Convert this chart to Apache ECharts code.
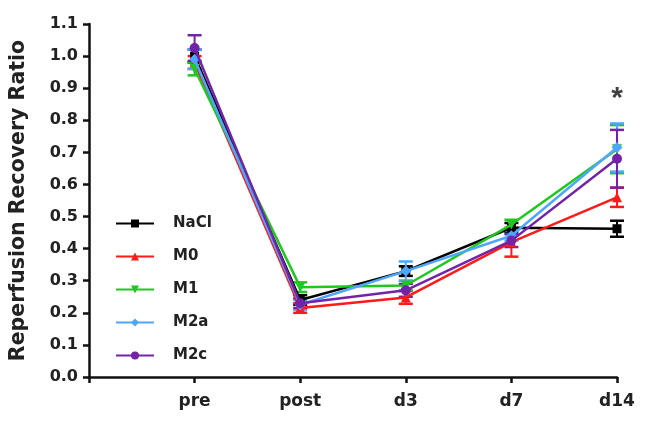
<!DOCTYPE html>
<html><head><meta charset="utf-8">
<script src="https://cdn.jsdelivr.net/npm/echarts@6/dist/echarts.min.js"></script>
<style>html,body{margin:0;padding:0;background:#fff}#c{width:653px;height:433px}</style>
</head><body><div id="c"></div>
<script>
const categories = ['', 'pre', 'post', 'd3', 'd7', 'd14'];
const timepoints = ['pre', 'post', 'd3', 'd7', 'd14'];
const groups = ['NaCl', 'M0', 'M1', 'M2a', 'M2c'];
const nacl = [1.00, 0.24, 0.33, 0.465, 0.462];
const m0   = [0.98, 0.215, 0.248, 0.42, 0.56];
const m1   = [0.96, 0.28, 0.285, 0.475, 0.71];
const m2a  = [0.99, 0.225, 0.33, 0.44, 0.715];
const m2c  = [1.025, 0.23, 0.27, 0.425, 0.68];
const naclErr = [0.02, 0.015, 0.015, 0.015, 0.025];
const m0Err   = [0.02, 0.015, 0.02, 0.045, 0.03];
const m1Err   = [0.02, 0.015, 0.015, 0.015, 0.075];
const m2aErr  = [0.03, 0.015, 0.03, 0.015, 0.075];
const m2cErr  = [0.04, 0.015, 0.02, 0.02, 0.09];
const yTicks = ['0.0','0.1','0.2','0.3','0.4','0.5','0.6','0.7','0.8','0.9','1.0','1.1'];
const starLabel = '*';
const starAt = ['d14', 0.875];

const FONT = 'DejaVu Sans';
const values = [nacl, m0, m1, m2a, m2c];
const errs = [naclErr, m0Err, m1Err, m2aErr, m2cErr];
const colors = ['#000000', '#ff1a1a', '#1ec81e', '#4da6ff', '#7323a8'];
const symbols = ['rect', 'triangle', 'path://M0,0 L10,0 L5,9 Z', 'diamond', 'circle'];
const sizes = [9, 10, 10, 11, 10];

const series = [];
groups.forEach((g, i) => {
  series.push({
    name: g + ' SEM', type: 'custom', z: 2 + i, silent: true,
    data: timepoints.map((t, k) => [t, values[i][k] - errs[i][k], values[i][k] + errs[i][k]]),
    renderItem: function (params, api) {
      const lo = api.coord([api.value(0), api.value(1)]);
      const hi = api.coord([api.value(0), api.value(2)]);
      const w = 7;
      return { type: 'group', children: [
        { type: 'line', shape: { x1: lo[0], y1: lo[1], x2: hi[0], y2: hi[1] }, style: { stroke: colors[i], lineWidth: 2 } },
        { type: 'line', shape: { x1: lo[0]-w, y1: lo[1], x2: lo[0]+w, y2: lo[1] }, style: { stroke: colors[i], lineWidth: 2.5 } },
        { type: 'line', shape: { x1: hi[0]-w, y1: hi[1], x2: hi[0]+w, y2: hi[1] }, style: { stroke: colors[i], lineWidth: 2.5 } }
      ]};
    }
  });
  series.push({
    name: g, type: 'line', z: 10 + i,
    data: timepoints.map((t, k) => [t, values[i][k]]),
    symbol: symbols[i], symbolSize: sizes[i], showAllSymbol: true,
    lineStyle: { color: colors[i], width: 2.5 },
    itemStyle: { color: colors[i] }
  });
});
series.push({
  name: 'sig', type: 'scatter', z: 30, silent: true,
  data: [starAt], symbol: 'circle', symbolSize: 6,
  itemStyle: { color: 'rgba(255,255,255,0)' },
  label: { show: true, position: 'inside', formatter: starLabel, fontSize: 30, fontWeight: 'bold',
           color: '#111', fontFamily: 'Liberation Sans', offset: [0, 3] }
});

const chart = echarts.init(document.getElementById('c'), null, { renderer: 'canvas' });
chart.setOption({
  animation: false,
  backgroundColor: '#fff',
  grid: { left: 89, right: 36, top: 24, bottom: 56, containLabel: false },
  legend: {
    orient: 'vertical', left: 110, top: 211,
    data: groups,
    itemWidth: 38, itemHeight: 10, itemGap: 18,
    textStyle: { fontFamily: FONT, fontWeight: 'bold', fontSize: 15, color: '#222', padding: [0, 0, 0, 14] },
    selectedMode: false
  },
  xAxis: {
    type: 'category', data: categories, boundaryGap: false,
    axisLine: { lineStyle: { color: '#111', width: 2.5 } },
    axisTick: { show: true, length: 6, lineStyle: { color: '#111', width: 2.5 } },
    axisLabel: { fontFamily: FONT, fontWeight: 'bold', fontSize: 17, color: '#222', margin: 16 },
    splitLine: { show: false }
  },
  yAxis: {
    type: 'value', min: 0, max: 1.1, interval: 0.1,
    name: 'Reperfusion Recovery Ratio', nameLocation: 'middle', nameGap: 60,
    nameTextStyle: { fontFamily: FONT, fontWeight: 'bold', fontSize: 20.5, color: '#222' },
    axisLine: { show: true, lineStyle: { color: '#111', width: 2.5 } },
    axisTick: { show: true, length: 6, lineStyle: { color: '#111', width: 2.5 } },
    axisLabel: { fontFamily: FONT, fontWeight: 'bold', fontSize: 16, color: '#222', margin: 11,
      formatter: (v) => yTicks[Math.round(v * 10)] },
    splitLine: { show: false }
  },
  series: series
});
</script></body></html>
